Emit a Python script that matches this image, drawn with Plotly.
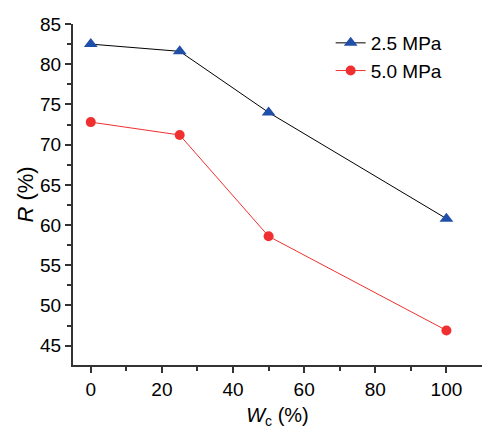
import plotly.graph_objects as go

wc = [0, 25, 50, 100]
r_25 = [82.5, 81.6, 74.0, 60.8]
r_50 = [72.8, 71.2, 58.6, 46.9]
names = ["2.5 MPa", "5.0 MPa"]

fig = go.Figure()
fig.add_trace(go.Scatter(x=wc, y=r_25, name=names[0], mode="lines+markers",
                         line=dict(color="black", width=1),
                         marker=dict(symbol="triangle-up", size=12, color="#1f4fa8")))
fig.add_trace(go.Scatter(x=wc, y=r_50, name=names[1], mode="lines+markers",
                         line=dict(color="#f03030", width=1),
                         marker=dict(symbol="circle", size=10, color="#f03030")))

fam = "Liberation Sans, Arial"
fig.update_layout(
    width=482, height=429,
    margin=dict(l=73, r=0, t=24, b=64),
    paper_bgcolor="white", plot_bgcolor="white",
    font=dict(family=fam, size=19, color="black"),
    showlegend=True,
    legend=dict(x=0.63, y=1.0, xanchor="left", yanchor="top",
                bgcolor="rgba(0,0,0,0)", font=dict(size=19, family=fam, color="black"),
                tracegroupgap=0, itemwidth=30),
    xaxis=dict(range=[-5, 110], tickvals=[0, 20, 40, 60, 80, 100],
               tickfont=dict(size=19, family=fam, color="black"),
               showgrid=False, zeroline=False, showline=True, linewidth=2, linecolor="#333",
               ticks="outside", ticklen=6, tickwidth=1.5, tickcolor="#333",
               minor=dict(tickvals=[10, 30, 50, 70, 90], ticks="outside", ticklen=4, tickwidth=1.5, tickcolor="#333"),
               title=dict(text="<i>W</i><sub>c</sub> (%)", standoff=14, font=dict(size=20, family=fam, color="black"))),
    yaxis=dict(range=[42.6, 85], tickvals=[45, 50, 55, 60, 65, 70, 75, 80, 85],
               tickfont=dict(size=19, family=fam, color="black"),
               showgrid=False, zeroline=False, showline=True, linewidth=2, linecolor="#333",
               ticks="outside", ticklen=6, tickwidth=1.5, tickcolor="#333",
               minor=dict(tickvals=[47.5, 52.5, 57.5, 62.5, 67.5, 72.5, 77.5, 82.5], ticks="outside", ticklen=4, tickwidth=1.5, tickcolor="#333"),
               title=dict(text="<i>R</i> (%)", standoff=0, font=dict(size=22, family=fam, color="black"))),
)
fig.write_html("out.html")
